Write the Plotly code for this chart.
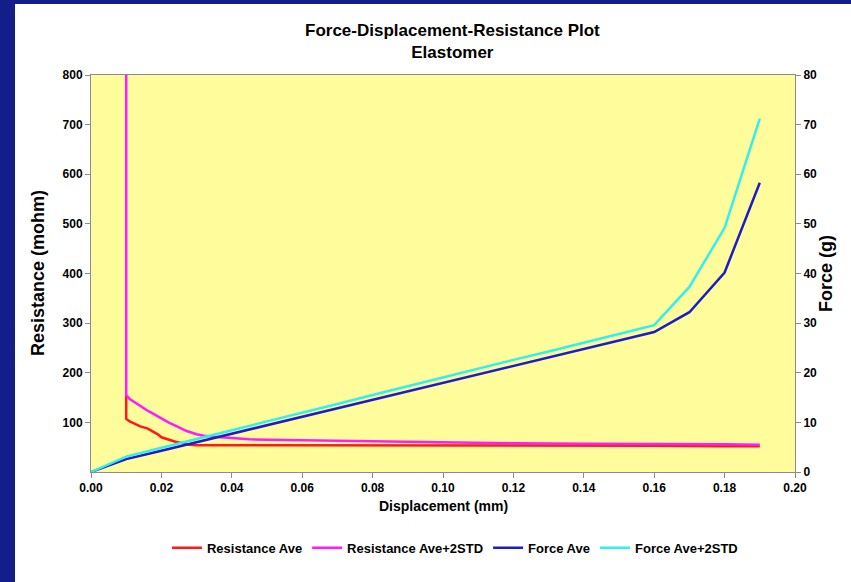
import plotly.graph_objects as go

# Resistance series (left axis, mohm)
res_x = [0.010, 0.010, 0.011, 0.013, 0.014, 0.015, 0.016, 0.017, 0.019, 0.020,
         0.022, 0.024, 0.026, 0.028, 0.030, 0.040, 0.050, 0.060, 0.070, 0.071,
         0.080, 0.100, 0.120, 0.140, 0.160, 0.180, 0.190]
res_ave = [155, 107, 102, 95, 92, 90, 88, 84, 76, 70,
           65, 61, 58, 55, 54, 54, 54, 54, 54, 53,
           53, 53, 53, 53, 53, 52, 52]

res2_x = [0.010, 0.010, 0.011, 0.0125, 0.014, 0.015, 0.016, 0.017, 0.020, 0.022,
          0.025, 0.027, 0.030, 0.032, 0.035, 0.040, 0.045, 0.050, 0.060, 0.070,
          0.080, 0.090, 0.100, 0.120, 0.140, 0.160, 0.180, 0.190]
res_ave_2std = [1000, 155, 147, 140, 132, 127, 124, 120, 107, 100,
                90, 83, 76, 73, 71, 68, 66, 65, 64, 63,
                62, 60, 59, 58, 57, 57, 56, 55]

# Force series (right axis, g)
force_x = [0.00, 0.01, 0.02, 0.03, 0.04, 0.05, 0.06, 0.07, 0.08, 0.09,
           0.10, 0.11, 0.12, 0.13, 0.14, 0.15, 0.16, 0.17, 0.18, 0.19]
force_ave = [0.0, 2.6, 4.3, 6.0, 7.7, 9.4, 11.1, 12.8, 14.5, 16.2,
             17.9, 19.6, 21.3, 23.0, 24.7, 26.4, 28.2, 32.2, 40.2, 58.3]
force_ave_2std = [0.0, 3.1, 4.9, 6.6, 8.4, 10.2, 11.9, 13.7, 15.5, 17.3,
                  19.1, 20.8, 22.6, 24.3, 26.0, 27.8, 29.6, 37.3, 49.2, 71.2]

x_ticks = [0.00, 0.02, 0.04, 0.06, 0.08, 0.10, 0.12, 0.14, 0.16, 0.18, 0.20]
res_ticks = [100, 200, 300, 400, 500, 600, 700, 800]
force_ticks = [0, 10, 20, 30, 40, 50, 60, 70, 80]

FONT = "Arial, Liberation Sans, sans-serif"
NAVY = "#121E8A"
AXIS_GREY = "#8C8C8C"

fig = go.Figure()
fig.add_trace(go.Scatter(x=res_x, y=res_ave, name="Resistance Ave", mode="lines",
                         line=dict(color="#FF1A1A", width=2.5)))
fig.add_trace(go.Scatter(x=res2_x, y=res_ave_2std, name="Resistance Ave+2STD", mode="lines",
                         line=dict(color="#FF1AFF", width=2.5)))
fig.add_trace(go.Scatter(x=force_x, y=force_ave, name="Force Ave", mode="lines",
                         line=dict(color="#1C1CC8", width=2.5), yaxis="y2"))
fig.add_trace(go.Scatter(x=force_x, y=force_ave_2std, name="Force Ave+2STD", mode="lines",
                         line=dict(color="#33EEEE", width=2.5), yaxis="y2"))

tickfont = dict(family=FONT, size=12, color="black", weight="bold")
fig.update_layout(
    width=851, height=582,
    margin=dict(l=91, r=56, t=75, b=110),
    paper_bgcolor="white",
    plot_bgcolor="#FFFC9C",
    showlegend=True,
    xaxis=dict(range=[0, 0.2], tickvals=x_ticks, tickformat=".2f",
               showgrid=False, zeroline=False, showline=True, mirror=True,
               linecolor=AXIS_GREY, linewidth=1, ticks="outside", ticklen=5,
               tickcolor=AXIS_GREY, tickfont=tickfont),
    yaxis=dict(range=[0, 800], tickvals=res_ticks, showgrid=False, zeroline=False,
               showline=True, linecolor=AXIS_GREY, linewidth=1, ticks="outside",
               ticklen=5, tickcolor=AXIS_GREY, tickfont=tickfont),
    yaxis2=dict(range=[0, 80], tickvals=force_ticks, overlaying="y", side="right",
                showgrid=False, zeroline=False, showline=True, linecolor=AXIS_GREY,
                linewidth=1, ticks="outside", ticklen=5, tickcolor=AXIS_GREY,
                tickfont=tickfont),
    legend=dict(orientation="h", x=0.517, xanchor="center", y=-0.191, yanchor="middle",
                font=dict(family=FONT, size=13, color="black", weight="bold"),
                bgcolor="rgba(0,0,0,0)", itemwidth=30, tracegroupgap=0),
)

# Navy frame strips on the left and top edges
fig.add_shape(type="rect", xref="paper", yref="paper",
              x0=-0.3, x1=(15 - 91) / 704, y0=-0.5, y1=1.5,
              fillcolor=NAVY, line=dict(width=0), layer="below")
fig.add_shape(type="rect", xref="paper", yref="paper",
              x0=-0.3, x1=1.3, y0=(472 - 4) / 397, y1=1.5,
              fillcolor=NAVY, line=dict(width=0), layer="below")

# Titles
fig.add_annotation(text="<b>Force-Displacement-Resistance Plot<br>Elastomer</b>",
                   xref="paper", yref="paper", x=0.514, y=1.0856,
                   xanchor="center", yanchor="middle", showarrow=False,
                   font=dict(family=FONT, size=17, color="black"))
fig.add_annotation(text="<b>Displacement (mm)</b>", xref="paper", yref="paper",
                   x=0.5, y=-0.0856, xanchor="center", yanchor="middle", showarrow=False,
                   font=dict(family=FONT, size=14, color="black"))
fig.add_annotation(text="<b>Resistance (mohm)</b>", xref="paper", yref="paper",
                   x=-0.0753, y=0.501, xanchor="center", yanchor="middle", textangle=-90,
                   showarrow=False, font=dict(family=FONT, size=18, color="black"))
fig.add_annotation(text="<b>Force (g)</b>", xref="paper", yref="paper",
                   x=1.044, y=0.501, xanchor="center", yanchor="middle", textangle=-90,
                   showarrow=False, font=dict(family=FONT, size=18, color="black"))

fig.write_html("out.html")
